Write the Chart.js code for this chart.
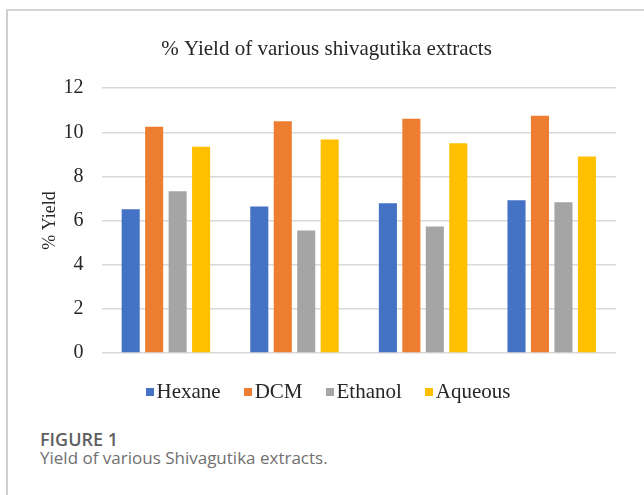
<!DOCTYPE html>
<html>
<head>
<meta charset="utf-8">
<script src="https://cdn.jsdelivr.net/npm/chart.js@4.4.1/dist/chart.umd.min.js"></script>
<style>
  html, body { margin: 0; padding: 0; background: #ffffff; width: 644px; height: 495px; overflow: hidden; }
  .frame {
    position: absolute; left: 6px; top: 9px; width: 660px; height: 500px;
    border-left: 2px solid #cfcfcf; border-top: 2px solid #d4d4d4;
  }
  .chart-box { position: absolute; left: 9px; top: 11px; width: 636px; height: 372px; }
  .legend {
    position: absolute; left: 0; top: 380px; width: 656px; height: 22px;
    display: flex; justify-content: center; align-items: center;
    font-family: "Liberation Serif", "Times New Roman", serif; font-size: 21px; line-height: 22px; color: #262626;
  }
  .legend-item { display: flex; align-items: center; margin: 0 11.5px; }
  .legend-box { width: 8px; height: 8px; margin-right: 3px; margin-top: 1px; }
  .cap-label {
    position: absolute; left: 40px; top: 429px; margin: 0;
    font-family: "Open Sans", sans-serif; font-weight: 600; font-size: 18px; line-height: 20px; color: #5f5f5f;
  }
  .cap-text {
    position: absolute; left: 40px; top: 448px; margin: 0;
    font-family: "Open Sans", sans-serif; font-weight: 400; font-size: 17px; line-height: 20px; color: #707070;
  }
</style>
</head>
<body>
<div class="frame"></div>
<div class="chart-box"><canvas id="yieldChart" width="636" height="372"></canvas></div>
<div class="legend" id="legend"></div>
<p class="cap-label">FIGURE 1</p>
<p class="cap-text">Yield of various Shivagutika extracts.</p>
<script>
// Extraction batches (not labelled on the axis)
const batches = ['1', '2', '3', '4'];

// % yield for each solvent, one value per batch
const hexane  = [6.52, 6.64, 6.79, 6.92];
const dcm     = [10.25, 10.5, 10.62, 10.75];
const ethanol = [7.33, 5.55, 5.73, 6.83];
const aqueous = [9.35, 9.67, 9.5, 8.91];

// Value axis ticks
const yTicks = [0, 2, 4, 6, 8, 10, 12];

const serif = '"Liberation Serif", "Times New Roman", serif';

// Legend row built from the chart's own datasets
const htmlLegend = {
  id: 'htmlLegend',
  afterUpdate(chart) {
    const el = document.getElementById('legend');
    el.innerHTML = '';
    chart.data.datasets.forEach((ds) => {
      const item = document.createElement('div');
      item.className = 'legend-item';
      const box = document.createElement('span');
      box.className = 'legend-box';
      box.style.background = ds.backgroundColor;
      const txt = document.createElement('span');
      txt.textContent = ds.label;
      item.appendChild(box);
      item.appendChild(txt);
      el.appendChild(item);
    });
  }
};

const ctx = document.getElementById('yieldChart');
new Chart(ctx, {
  type: 'bar',
  data: {
    labels: batches,
    datasets: [
      { label: 'Hexane',  data: hexane,  backgroundColor: '#4472C4' },
      { label: 'DCM',     data: dcm,     backgroundColor: '#ED7D31' },
      { label: 'Ethanol', data: ethanol, backgroundColor: '#A5A5A5' },
      { label: 'Aqueous', data: aqueous, backgroundColor: '#FFC000' }
    ]
  },
  plugins: [htmlLegend],
  options: {
    responsive: false,
    animation: false,
    devicePixelRatio: 1,
    datasets: { bar: { categoryPercentage: 0.73, barPercentage: 0.77 } },
    layout: { padding: { left: 28, right: 29, top: 18, bottom: 20 } },
    plugins: {
      tooltip: { enabled: false },
      legend: { display: false },
      title: {
        display: true,
        text: '% Yield of various shivagutika extracts',
        color: '#262626',
        font: { family: serif, size: 21, weight: 'normal' },
        padding: { top: 8, bottom: 26 }
      }
    },
    scales: {
      x: { display: false },
      y: {
        min: 0,
        max: 12,
        afterBuildTicks: (axis) => { axis.ticks = yTicks.map(v => ({ value: v })); },
        grid: { color: '#d9d9d9', lineWidth: 1.5, drawTicks: false },
        border: { display: false },
        ticks: {
          color: '#262626',
          font: { family: serif, size: 20 },
          padding: 18
        },
        title: {
          display: true,
          text: '% Yield',
          color: '#262626',
          font: { family: serif, size: 18 },
          // tick padding is counted on both sides of the labels; pull the title back in
          padding: { top: 2, bottom: -15 }
        }
      }
    }
  }
});
</script>
</body>
</html>
